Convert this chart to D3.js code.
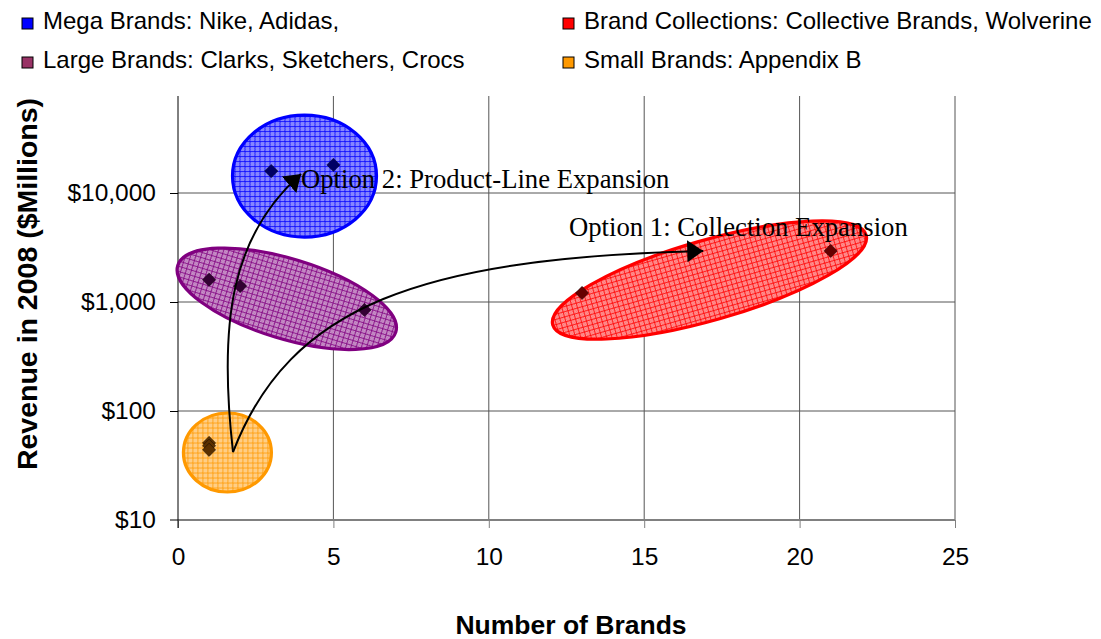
<!DOCTYPE html>
<html>
<head>
<meta charset="utf-8">
<script src="https://cdn.jsdelivr.net/npm/d3@7"></script>
<style>
  body { margin: 0; background: #fff; }
  svg { display: block; }
</style>
</head>
<body>
<svg id="chart" width="1101" height="639"></svg>
<script>
// Segment labels (legend order)
const segmentNames = [
  "Mega Brands: Nike, Adidas,",
  "Brand Collections: Collective Brands, Wolverine",
  "Large Brands: Clarks, Sketchers, Crocs",
  "Small Brands: Appendix B"
];

// Number of brands vs. 2008 revenue ($M) per company
const megaBrands = [3, 5];
const megaRevenue = [15900, 18100];
const collectionBrands = [13, 21];
const collectionRevenue = [1210, 2940];
const largeBrands = [1, 2, 6];
const largeRevenue = [1600, 1400, 845];
const smallBrands = [1, 1, 1];
const smallRevenue = [51, 48, 44];

const xTicks = [0, 5, 10, 15, 20, 25];
const yTicks = [10, 100, 1000, 10000];
const xTitle = "Number of Brands";
const yTitle = "Revenue in 2008 ($Millions)";
const option1Label = "Option 1: Collection Expansion";
const option2Label = "Option 2: Product-Line Expansion";

// Group outlines: centre in data units, radii/rotation in pixels/degrees
const groupEllipses = [
  { key: "mega",  cx: 4.07, cy: 14300, rx: 72,  ry: 61,   rot: 0 },
  { key: "large", cx: 3.5,  cy: 1070,  rx: 114, ry: 40,   rot: 17 },
  { key: "coll",  cx: 17.1, cy: 1590,  rx: 163, ry: 40,   rot: -16 },
  { key: "small", cx: 1.59, cy: 41.6,  rx: 44,  ry: 39.5, rot: 0 }
];

// Strategy arrows as cubic curves in data units [brands, revenue]
const option2Path = [[1.77, 42], [1.287, 684], [1.737, 4120], [3.96, 14900]];
const option1Path = [[1.77, 42], [3.6, 938], [7.79, 2535], [16.9, 2940]];

const styles = {
  mega:  { line: "#0000ff", legend: "#0000ff", marker: "#000066" },
  coll:  { line: "#ff0000", legend: "#ff0000", marker: "#660000" },
  large: { line: "#800080", legend: "#993366", marker: "#330033" },
  small: { line: "#ff9900", legend: "#ff9900", marker: "#5a3000" }
};

const svg = d3.select("#chart");
const plotTop = 96, plotBottom = 520, plotLeft = 178, plotRight = 955;

const x = d3.scaleLinear().domain([0, 25]).range([plotLeft, plotRight]);
const y = d3.scaleLog().domain([10, 100000]).range([plotBottom, 84]);

// Hatched fills
const defs = svg.append("defs");
Object.entries(styles).forEach(([k, s]) => {
  const p = defs.append("pattern")
    .attr("id", "hatch-" + k)
    .attr("patternUnits", "userSpaceOnUse")
    .attr("width", 5).attr("height", 5);
  p.append("rect").attr("width", 5).attr("height", 5).attr("fill", "#fff");
  p.append("rect").attr("width", 5).attr("height", 5).attr("fill", s.line).attr("opacity", 0.4);
  for (let i = 1; i < 5; i++) {
    for (let j = 1; j < 5; j++) {
      if ((i + j) % 2 === 0) {
        p.append("rect").attr("x", i).attr("y", j).attr("width", 1).attr("height", 1)
          .attr("fill", s.line).attr("opacity", 0.25);
      }
    }
  }
  p.append("rect").attr("x", 0).attr("y", 0).attr("width", 5).attr("height", 1).attr("fill", s.line).attr("opacity", 0.8);
  p.append("rect").attr("x", 0).attr("y", 0).attr("width", 1).attr("height", 5).attr("fill", s.line).attr("opacity", 0.8);
});

defs.append("marker")
  .attr("id", "arrowhead")
  .attr("markerUnits", "userSpaceOnUse")
  .attr("viewBox", "0 0 18 24")
  .attr("markerWidth", 18).attr("markerHeight", 24)
  .attr("refX", 16).attr("refY", 12)
  .attr("orient", "auto")
  .append("path").attr("d", "M0,1 L16,12 L0,23 Z").attr("fill", "#000");

// Gridlines
const grid = svg.append("g");
grid.selectAll("line.v").data(xTicks.filter(d => d > 0)).join("line")
  .attr("x1", d => x(d)).attr("x2", d => x(d))
  .attr("y1", plotTop).attr("y2", plotBottom)
  .attr("stroke", "#555").attr("stroke-width", 1);
grid.selectAll("line.h").data(yTicks.filter(d => d > 10)).join("line")
  .attr("x1", plotLeft).attr("x2", plotRight)
  .attr("y1", d => y(d)).attr("y2", d => y(d))
  .attr("stroke", "#555").attr("stroke-width", 1);

// Axes
const sans = "Liberation Sans, Arial, sans-serif";
const fmt = d3.format(",");
const yAxis = svg.append("g").attr("transform", `translate(${plotLeft},0)`)
  .call(d3.axisLeft(y).tickValues(yTicks).tickFormat(d => "$" + fmt(d)).tickSize(8).tickPadding(14));
yAxis.select(".domain").remove();
yAxis.selectAll(".tick line").attr("stroke", "#000");
yAxis.selectAll("text").attr("font-family", sans).attr("font-size", 24.5).attr("fill", "#000");

const xAxis = svg.append("g").attr("transform", `translate(0,${plotBottom})`)
  .call(d3.axisBottom(x).tickValues(xTicks).tickFormat(d3.format("d")).tickSize(8).tickPadding(20));
xAxis.select(".domain").remove();
xAxis.selectAll(".tick line").attr("stroke", "#808080");
xAxis.selectAll("text").attr("font-family", sans).attr("font-size", 24.5).attr("fill", "#000");

svg.append("line").attr("x1", plotLeft - 8).attr("x2", plotRight)
  .attr("y1", plotBottom).attr("y2", plotBottom)
  .attr("stroke", "#808080").attr("stroke-width", 2);
svg.append("line").attr("x1", plotLeft).attr("x2", plotLeft)
  .attr("y1", plotTop).attr("y2", plotBottom + 8)
  .attr("stroke", "#000").attr("stroke-width", 1);

// Group ellipses
svg.append("g").selectAll("ellipse").data(groupEllipses).join("ellipse")
  .attr("transform", d => `translate(${x(d.cx)},${y(d.cy)}) rotate(${d.rot})`)
  .attr("rx", d => d.rx).attr("ry", d => d.ry)
  .attr("fill", d => `url(#hatch-${d.key})`)
  .attr("stroke", d => styles[d.key].line)
  .attr("stroke-width", 3.2);

// Markers
const series = [
  { key: "mega", xs: megaBrands, ys: megaRevenue },
  { key: "coll", xs: collectionBrands, ys: collectionRevenue },
  { key: "large", xs: largeBrands, ys: largeRevenue },
  { key: "small", xs: smallBrands, ys: smallRevenue }
];
const diamond = d3.symbol().type(d3.symbolSquare).size(88);
series.forEach(s => {
  svg.append("g").selectAll("path").data(s.xs.map((v, i) => [v, s.ys[i]])).join("path")
    .attr("d", diamond)
    .attr("transform", d => `translate(${x(d[0])},${y(d[1])}) rotate(45)`)
    .attr("fill", styles[s.key].marker)
    .attr("stroke", "#000").attr("stroke-opacity", 0.5).attr("stroke-width", 0.8);
});

// Strategy arrows
function curve(pts) {
  const p = pts.map(d => [x(d[0]), y(d[1])]);
  const path = d3.path();
  path.moveTo(p[0][0], p[0][1]);
  path.bezierCurveTo(p[1][0], p[1][1], p[2][0], p[2][1], p[3][0], p[3][1]);
  return path.toString();
}
[option2Path, option1Path].forEach(pts => {
  svg.append("path").attr("d", curve(pts))
    .attr("fill", "none").attr("stroke", "#000").attr("stroke-width", 2)
    .attr("marker-end", "url(#arrowhead)");
});

// Option labels
const serif = "Liberation Serif, Times New Roman, serif";
svg.append("text").attr("x", 301).attr("y", 188)
  .attr("font-family", serif).attr("font-size", 26.7).text(option2Label);
svg.append("text").attr("x", 569).attr("y", 236)
  .attr("font-family", serif).attr("font-size", 26.7).text(option1Label);

// Axis titles
svg.append("text").attr("x", 571).attr("y", 634).attr("text-anchor", "middle")
  .attr("font-family", sans).attr("font-weight", "bold")
  .attr("font-size", 26.5).text(xTitle);
svg.append("text").attr("transform", "translate(37,284) rotate(-90)").attr("text-anchor", "middle")
  .attr("font-family", sans).attr("font-weight", "bold")
  .attr("font-size", 28.5).text(yTitle);

// Legend
const legendPos = [[22, 18], [563, 18], [22, 57], [563, 57]];
const legendKeys = ["mega", "coll", "large", "small"];
const legend = svg.append("g").selectAll("g").data(segmentNames).join("g")
  .attr("transform", (d, i) => `translate(${legendPos[i][0]},${legendPos[i][1]})`);
legend.append("rect").attr("width", 11).attr("height", 11)
  .attr("fill", (d, i) => styles[legendKeys[i]].legend)
  .attr("stroke", "#000").attr("stroke-width", 1);
legend.append("text").attr("x", 21).attr("y", 11)
  .attr("font-family", sans).attr("font-size", 24)
  .text(d => d);
</script>
</body>
</html>
